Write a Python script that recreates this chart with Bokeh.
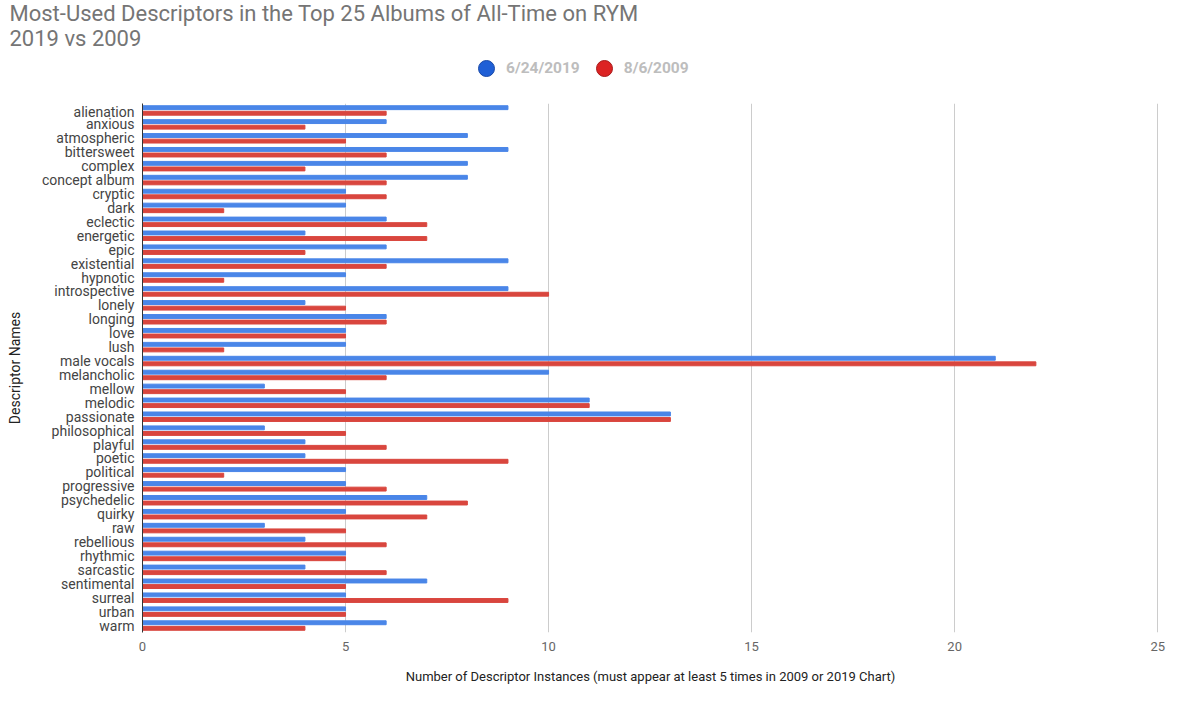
from bokeh.plotting import figure
from bokeh.layouts import column
from bokeh.models import (ColumnDataSource, FactorRange, Range1d, FixedTicker, Title,
                          Legend, LegendItem)
from bokeh.transform import dodge
from bokeh.embed import file_html
from bokeh.resources import INLINE

descriptors = ["alienation", "anxious", "atmospheric", "bittersweet", "complex", "concept album",
               "cryptic", "dark", "eclectic", "energetic", "epic", "existential", "hypnotic",
               "introspective", "lonely", "longing", "love", "lush", "male vocals", "melancholic",
               "mellow", "melodic", "passionate", "philosophical", "playful", "poetic", "political",
               "progressive", "psychedelic", "quirky", "raw", "rebellious", "rhythmic", "sarcastic",
               "sentimental", "surreal", "urban", "warm"]
counts_2019 = [9, 6, 8, 9, 8, 8, 5, 5, 6, 4, 6, 9, 5, 9, 4, 6, 5, 5, 21, 10,
               3, 11, 13, 3, 4, 4, 5, 5, 7, 5, 3, 4, 5, 4, 7, 5, 5, 6]
counts_2009 = [6, 4, 5, 6, 4, 6, 6, 2, 7, 7, 4, 6, 2, 10, 5, 6, 5, 2, 22, 6,
               5, 11, 13, 5, 6, 9, 2, 6, 8, 7, 5, 6, 5, 6, 5, 9, 5, 4]
series_names = ["6/24/2019", "8/6/2009"]
x_ticks = [0, 5, 10, 15, 20, 25]

title_line1 = "Most-Used Descriptors in the Top 25 Albums of All-Time on RYM"
title_line2 = "2019 vs 2009"
x_title = "Number of Descriptor Instances (must appear at least 5 times in 2009 or 2019 Chart)"
y_title = "Descriptor Names"

BLUE = "#4a86e8"
RED = "#d9463e"
FONT = "Roboto"
TOP_H = 103
LEFT, RIGHT = 142, 42

# ---------------- header (title + legend) ----------------
head = figure(width=1200, height=TOP_H, output_backend="svg", toolbar_location=None,
              x_range=Range1d(0, 1), y_range=Range1d(0, 1),
              x_axis_location=None, y_axis_location=None,
              min_border_left=LEFT, min_border_right=RIGHT, min_border_top=0, min_border_bottom=0)
head.outline_line_color = None
head.xgrid.visible = False
head.ygrid.visible = False
head.add_layout(Title(text=title_line2, text_font=FONT, text_font_size="22px",
                      text_font_style="normal", text_color="#757575", align="left",
                      offset=-(LEFT - 9), standoff=0), "above")
head.add_layout(Title(text=title_line1, text_font=FONT, text_font_size="22px",
                      text_font_style="normal", text_color="#757575", align="left",
                      offset=-(LEFT - 9), standoff=-4), "above")

nan = float("nan")
d1 = head.scatter(x=[nan], y=[nan], marker="circle", size=16,
                  fill_color="#1f5fd6", line_color="#1a4aa8")
d2 = head.scatter(x=[nan], y=[nan], marker="circle", size=16,
                  fill_color="#dc2323", line_color="#a81a1a")
legend = Legend(items=[LegendItem(label=series_names[0], renderers=[d1]),
                       LegendItem(label=series_names[1], renderers=[d2])],
                orientation="horizontal", location=(466 - LEFT, 15),
                label_text_font=FONT, label_text_font_size="15.5px", label_text_font_style="bold",
                label_text_color="#bdbdbd", glyph_width=40, glyph_height=40,
                label_standoff=-3, spacing=4, padding=0, margin=0,
                border_line_color=None, background_fill_alpha=0)
head.add_layout(legend, "center")

# ---------------- main chart ----------------
src = ColumnDataSource(dict(name=descriptors, v2019=counts_2019, v2009=counts_2009))

p = figure(width=1200, height=705 - TOP_H, output_backend="svg", toolbar_location=None,
           y_range=FactorRange(*list(reversed(descriptors)), range_padding=0),
           x_range=Range1d(0, 25.02),
           min_border_left=LEFT, min_border_right=RIGHT, min_border_top=0, min_border_bottom=73)
p.outline_line_color = None
p.background_fill_color = "white"
p.border_fill_color = "white"

p.hbar(y=dodge("name", 0.2, range=p.y_range), right="v2019", left=0, height=0.28,
       source=src, color=BLUE)
p.hbar(y=dodge("name", -0.2, range=p.y_range), right="v2009", left=0, height=0.28,
       source=src, color=RED)

p.xaxis.ticker = FixedTicker(ticks=x_ticks)
p.xaxis.axis_line_color = None
p.xaxis.major_tick_line_color = None
p.xaxis.minor_tick_line_color = None
p.xaxis.major_label_text_font = FONT
p.xaxis.major_label_text_font_size = "13px"
p.xaxis.major_label_text_color = "#666666"
p.xaxis.major_label_standoff = 3
p.xaxis.axis_label = x_title
p.xaxis.axis_label_text_font = FONT
p.xaxis.axis_label_text_font_size = "13px"
p.xaxis.axis_label_text_font_style = "normal"
p.xaxis.axis_label_text_color = "#222222"
p.xaxis.axis_label_standoff = 15

p.yaxis.axis_line_color = "#333333"
p.yaxis.axis_line_width = 1
p.yaxis.major_tick_line_color = None
p.yaxis.minor_tick_line_color = None
p.yaxis.major_label_text_font = FONT
p.yaxis.major_label_text_font_size = "14px"
p.yaxis.major_label_text_color = "#444444"
p.yaxis.major_label_standoff = 2
p.yaxis.axis_label = y_title
p.yaxis.axis_label_text_font = FONT
p.yaxis.axis_label_text_font_size = "14px"
p.yaxis.axis_label_text_font_style = "normal"
p.yaxis.axis_label_text_color = "#222222"
p.yaxis.axis_label_standoff = 16

p.ygrid.grid_line_color = None
p.xgrid.ticker = FixedTicker(ticks=x_ticks[1:])
p.xgrid.grid_line_color = "#cccccc"
p.xgrid.grid_line_width = 1

layout = column(head, p, spacing=0)
open("out.html", "w").write(file_html(layout, INLINE))
